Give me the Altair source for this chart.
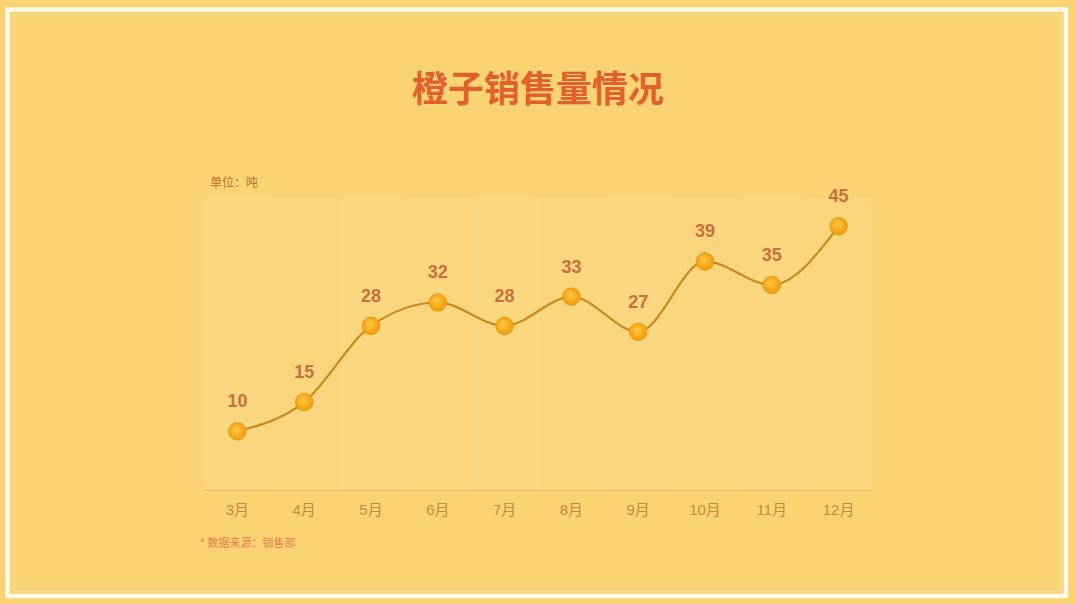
import altair as alt
import pandas as pd

months = ["3月", "4月", "5月", "6月", "7月", "8月", "9月", "10月", "11月", "12月"]
sales = [10, 15, 28, 32, 28, 33, 27, 39, 35, 45]
title_text = "橙子销售量情况"
unit_text = "单位：吨"
source_text = "* 数据来源：销售部"

df = pd.DataFrame({"month": months, "sales": sales})

BG = "#FAD372"
CJK = "Noto Sans CJK SC"
LAT = "Liberation Sans, Noto Sans CJK SC"

x_enc = alt.X("month:N", sort=months,
              scale=alt.Scale(paddingInner=0, paddingOuter=0),
              axis=alt.Axis(title=None, labelAngle=0, ticks=False, labelPadding=12,
                            labelFontSize=15, labelColor="#C98A3C", labelFont=LAT,
                            domainColor="#EDBE5A", domainWidth=1))
y_scale = alt.Scale(domain=[0, 50], nice=False, zero=True)

base = alt.Chart(df)

cols = base.transform_window(
    idx="row_number()"
).transform_calculate(
    odd="datum.idx % 2"
).transform_calculate(
    top="50"
).mark_bar(color="#FFE7A6").encode(
    x=x_enc,
    y=alt.Y("top:Q", scale=y_scale, axis=None),
    opacity=alt.Opacity("odd:N", scale=alt.Scale(domain=["1", "0", 1, 0], range=[0.42, 0.2, 0.42, 0.2]), legend=None),
)

line = base.mark_line(color="#C98A1E", strokeWidth=2.2, interpolate="monotone").encode(
    x=alt.X("month:N", sort=months),
    y=alt.Y("sales:Q", scale=y_scale, axis=None),
)

pts = base.mark_circle(
    size=310, opacity=1,
    fill=alt.RadialGradient(gradient="radial",
                            stops=[alt.GradientStop(offset=0, color="#FFCB45"),
                                   alt.GradientStop(offset=1, color="#F09400")],
                            x1=0.4, y1=0.35, x2=0.5, y2=0.5, r1=0, r2=0.6),
    stroke="#E8950E", strokeWidth=0.8,
).encode(
    x=alt.X("month:N", sort=months),
    y=alt.Y("sales:Q", scale=y_scale, axis=None),
)

labels = base.mark_text(dy=-29, fontSize=18, fontWeight="bold", font=LAT, color="#C9703F").encode(
    x=alt.X("month:N", sort=months),
    y=alt.Y("sales:Q", scale=y_scale, axis=None),
    text="sales:Q",
)

one = alt.Data(values=[{"a": 1}])

frame_outer = alt.Chart(one).mark_rect(filled=False, stroke="#FFFBEA", strokeWidth=4.5).encode(
    x=alt.value(-196.5), x2=alt.value(862), y=alt.value(-187.5), y2=alt.value(399))
frame_inner = alt.Chart(one).mark_rect(filled=False, stroke="#F3E2AE", strokeWidth=1.2).encode(
    x=alt.value(-190.5), x2=alt.value(857), y=alt.value(-182.5), y2=alt.value(394.5))

title = alt.Chart(one).mark_text(fontSize=36, fontWeight="bold", font=CJK, color="#E2602E",
                                 align="center", baseline="middle").encode(
    x=alt.value(334), y=alt.value(-106), text=alt.value(title_text))
unit = alt.Chart(one).mark_text(fontSize=12, font=CJK, color="#C2702E",
                                align="left", baseline="middle").encode(
    x=alt.value(6), y=alt.value(-14), text=alt.value(unit_text))
source = alt.Chart(one).mark_text(fontSize=11, font=CJK, color="#E5824F",
                                  align="left", baseline="middle").encode(
    x=alt.value(-4), y=alt.value(347), text=alt.value(source_text))

chart = alt.layer(frame_outer, frame_inner, cols, line, pts, labels, title, unit, source).properties(
    width=668, height=293,
    autosize=alt.AutoSizeParams(type="none"),
    padding={"left": 204, "top": 197, "right": 204, "bottom": 114},
    background=BG,
).configure_view(stroke=None)

chart.save("out.html", embed_options={"renderer": "svg", "actions": False})
